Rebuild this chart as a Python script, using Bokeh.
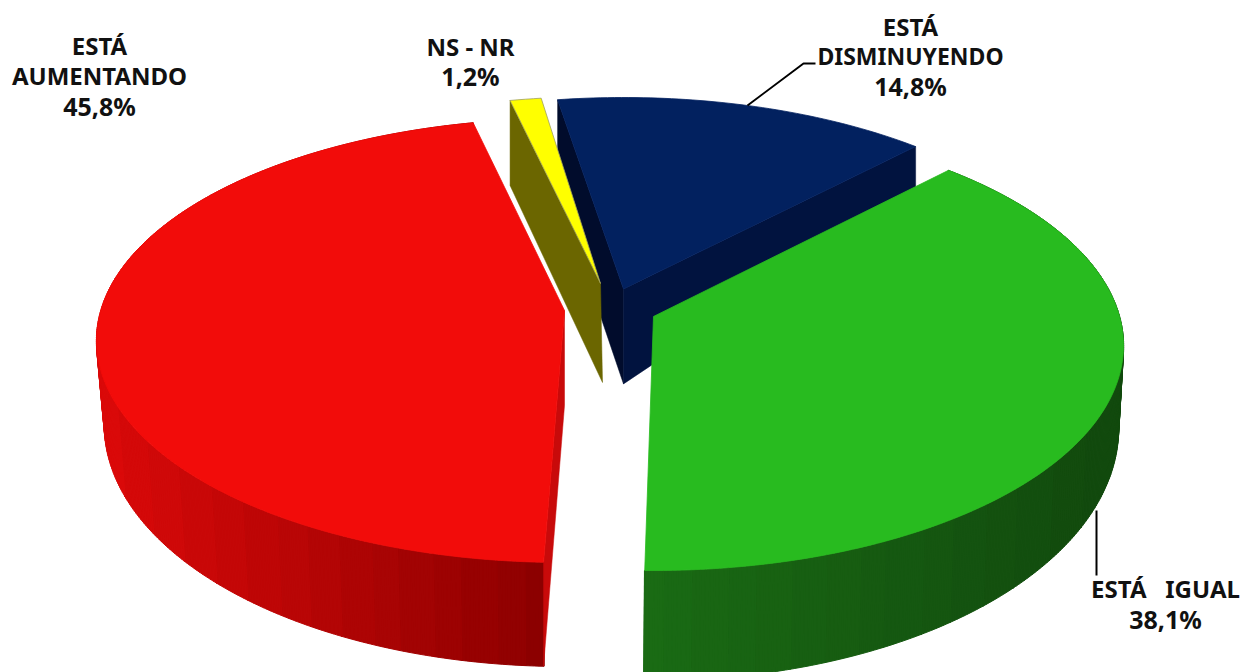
import math
from bokeh.plotting import figure
from bokeh.embed import file_html
from bokeh.resources import INLINE
from bokeh.core.properties import value

# ---- data ----
categories = ["ESTÁ DISMINUYENDO", "ESTÁ  IGUAL", "ESTÁ AUMENTANDO", "NS - NR"]
values = [14.8, 38.1, 45.8, 1.2]
label_lines = [["ESTÁ", "DISMINUYENDO"], ["ESTÁ\u00a0\u00a0\u00a0IGUAL"], ["ESTÁ", "AUMENTANDO"], ["NS - NR"]]

# ---- styling / layout ----
W, H = 1247, 672
ROTATION = -9.0
NUDGE = [-0.3, -0.5, 0.8, 1.2]
TOP = [(623, 317, 464, 220, .13), (653, 345, 470, 225, .129), (564, 340, 468, 222, .135), (600, 308, 470, 212, .118)]
LOWER = {1: (652, 428, 466, 252, .13), 2: (564, 425, 460, 241, .135)}
FILL = ["#02215f", "#28bb1f", "#f20c0a", "#ffff00"]
LINE = ["#02215f", "#28bb1f", "#f20c0a", "#a0a060"]
GRAD = {1: ((645, (26, 107, 20)), (1100, (18, 74, 14))), 2: ((100, (218, 10, 10)), (543, (140, 0, 0)))}
LABEL_POS = [(910, 26, 29.5), (1165, 588, 30), (99, 44.5, 30.5), (470, 45.5, 30)]
BANDS = 14
LONG_LINE_PX = {"DISMINUYENDO": 23}


def disc(b, e):
    cx, cy, rx, ry, k = e
    t = math.radians(b)
    X, Y = math.sin(t), math.cos(t)
    den = 1 + k * Y
    return cx + rx * math.sqrt(1 - k * k) * X / den, cy - ry * (Y + k) / den


def apex(e):
    return e[0], e[1] - e[3] * e[4]


def hexcol(c):
    return "#%02x%02x%02x" % tuple(int(round(v)) for v in c)


def shade(i, x):
    (x0, c0), (x1, c1) = GRAD[i]
    f = min(1, max(0, (x - x0) / (x1 - x0)))
    f = round(f * BANDS) / BANDS
    return hexcol([a + (b - a) * f for a, b in zip(c0, c1)])


p = figure(width=W, height=H, x_range=(0, W), y_range=(H, 0), output_backend="svg",
           toolbar_location=None, min_border=0, outline_line_color=None,
           margin=(0, 0, 0, 0))
p.xaxis.visible = False
p.yaxis.visible = False
p.grid.visible = False
p.background_fill_color = "white"

# slice angular spans from the values
spans = []
cum = 0.0
for i, v in enumerate(values):
    a0 = ROTATION + cum * 3.6 + NUDGE[i]
    a1 = a0 + v * 3.6
    spans.append((a0, a1))
    cum += v


def inner_wall(i, b, d_edge, d_apex, dx=0, color="#000"):
    e = TOP[i]
    ex, ey = disc(b, e)
    ax, ay = apex(e)
    p.patch([ex, ax, ax + dx, ex], [ey, ay, ay + d_apex, ey + d_edge],
            fill_color=color, line_color=color, line_width=0.5)


def top_face(i):
    a0, a1 = spans[i]
    n = max(4, int(a1 - a0))
    pts = [disc(a0 + (a1 - a0) * j / n, TOP[i]) for j in range(n + 1)]
    ax, ay = apex(TOP[i])
    p.patch([ax] + [q[0] for q in pts], [ay] + [q[1] for q in pts],
            fill_color=FILL[i], line_color=LINE[i], line_width=0.8)


def outer_wall(i):
    a0, a1 = spans[i]
    n = int((a1 - a0) / 1.0)
    # one polygon per colour band, neighbouring steps of the same colour merged
    runs = []
    for j in range(n):
        b0 = a0 + (a1 - a0) * j / n
        b1 = a0 + (a1 - a0) * (j + 1) / n
        t0, t1 = disc(b0, TOP[i]), disc(b1, TOP[i])
        c = shade(i, (t0[0] + t1[0]) / 2)
        if runs and runs[-1][0] == c:
            runs[-1][2] = b1
        else:
            runs.append([c, b0, b1])
    for c, b0, b1 in runs:
        m = max(2, int((b1 - b0) * 2))
        bs = [b0 + (b1 - b0) * q / m for q in range(m + 1)]
        tp = [disc(b, TOP[i]) for b in bs]
        lw = [disc(b, LOWER[i]) for b in reversed(bs)]
        p.patch([q[0] for q in tp + lw], [q[1] for q in tp + lw],
                fill_color=c, line_color=c, line_width=1)
        # rulings of the wall fill the silhouette between the two rims
        rx = [[disc(b, TOP[i])[0], disc(b, LOWER[i])[0]] for b in bs]
        ry = [[disc(b, TOP[i])[1], disc(b, LOWER[i])[1]] for b in bs]
        p.multi_line(rx, ry, line_color=c, line_width=1.5)


# blue (back)
inner_wall(0, spans[0][0], 90, 95, 0, "#010c2c")
inner_wall(0, spans[0][1], 42, 95, 0, "#01133f")
top_face(0)
# yellow
inner_wall(3, spans[3][0], 85, 99, 2, "#6b6600")
top_face(3)
# red
outer_wall(2)
inner_wall(2, spans[2][0], 104, 95, 0, "#c80a0a")
top_face(2)
# green
outer_wall(1)
top_face(1)

# leader lines
p.line([747, 803, 815], [105, 63, 63], line_color="black", line_width=2)
p.line([1096, 1096], [510, 575], line_color="black", line_width=2)

# labels
for i, (x, y, dy) in enumerate(LABEL_POS):
    pct = f"{values[i]:.1f}%".replace(".", ",")
    lines = label_lines[i] + [pct]
    for j, s in enumerate(lines):
        size = LONG_LINE_PX.get(s, 25 if s == pct else 24)
        p.text([x], [y + j * dy], text=[s], text_font=value("Noto Sans"), text_font_style="bold",
               text_font_size=f"{size}px", text_align="center", text_baseline="middle", text_color="#111111")

open("out.html", "w").write(file_html(p, INLINE))
